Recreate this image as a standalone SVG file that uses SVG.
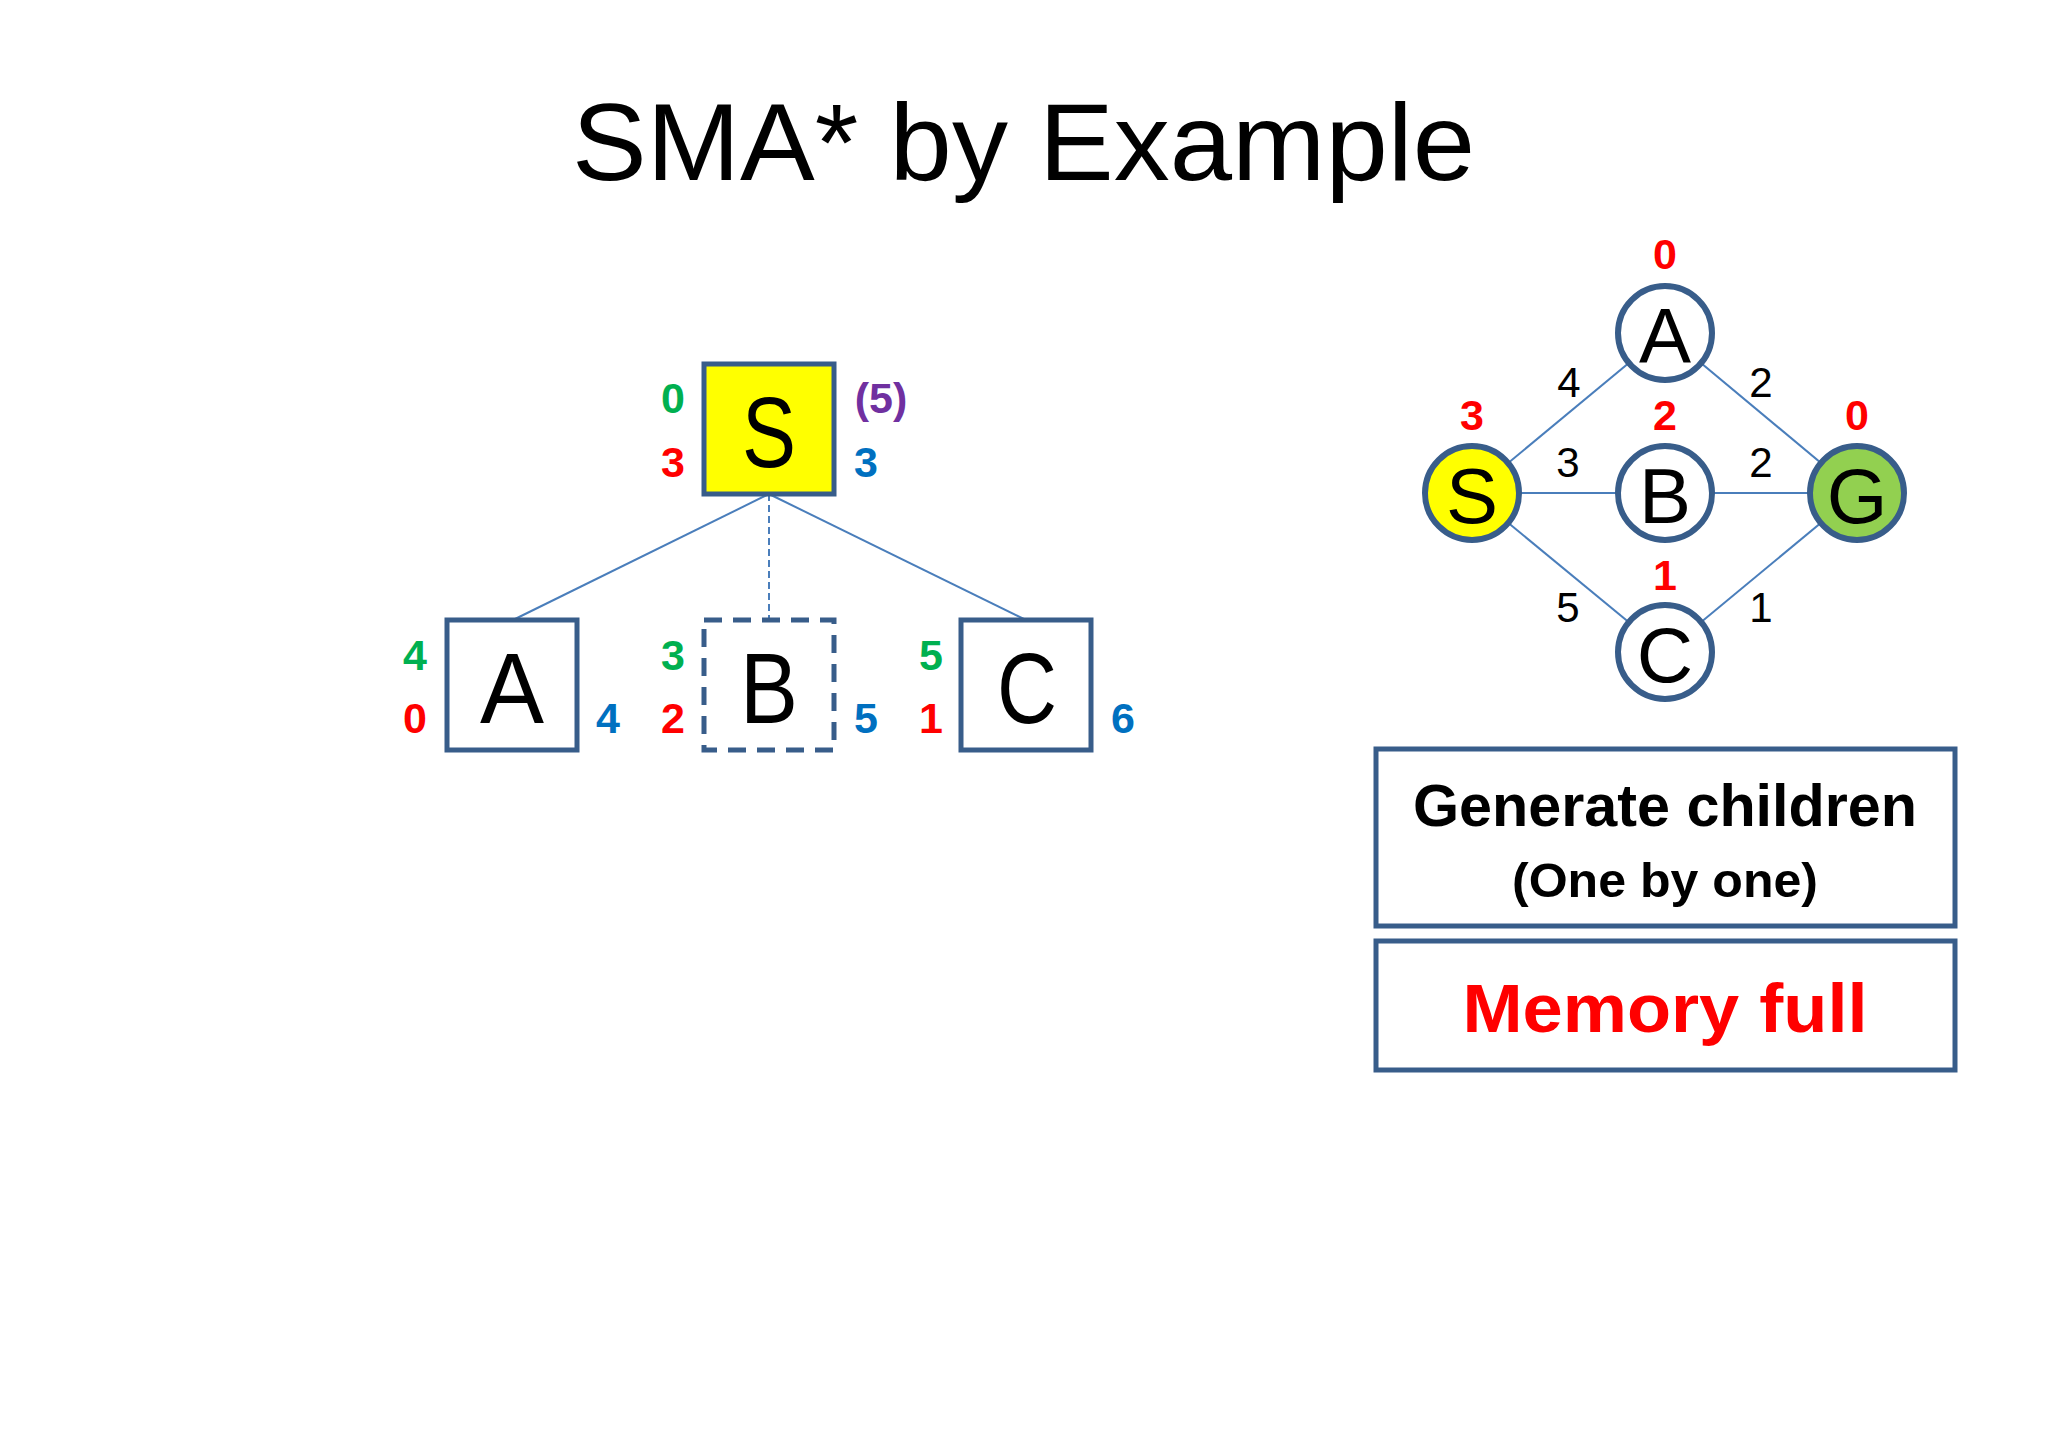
<svg xmlns="http://www.w3.org/2000/svg" width="2048" height="1434" viewBox="0 0 2048 1434">
<style>
.t{font-family:"Liberation Sans",Arial,sans-serif}
.box{fill:#fff;stroke:#385D8A;stroke-width:5}
.big{font-family:"Liberation Sans",Arial,sans-serif;font-size:100px;fill:#000;text-anchor:middle}
.mid{font-family:"Liberation Sans",Arial,sans-serif;font-size:78px;fill:#000;text-anchor:middle}
.num{font-family:"Liberation Sans",Arial,sans-serif;font-size:43px;font-weight:bold;text-anchor:middle}
.w{font-family:"Liberation Sans",Arial,sans-serif;font-size:42px;fill:#000;text-anchor:middle}
.g{fill:#00B050}.r{fill:#FF0000}.b{fill:#0070C0}.p{fill:#7030A0}
.edge{stroke:#4A7EBB;stroke-width:2;fill:none}
.circ{stroke:#385D8A;stroke-width:6;fill:#fff}
</style>
<rect width="2048" height="1434" fill="#fff"/>
<text class="t" x="572" y="180" font-size="110" textLength="903" lengthAdjust="spacingAndGlyphs">SMA* by Example</text>

<g id="tree-connectors">
<line class="edge" x1="769" y1="494" x2="513" y2="620"/>
<line class="edge" x1="769" y1="494" x2="1026" y2="620"/>
<line class="edge" x1="769" y1="494" x2="769" y2="620" stroke-dasharray="7 4"/>
</g>

<g id="tree-S">
<rect class="box" x="704" y="364" width="130" height="130" style="fill:#FFFF00"/>
<text class="big" x="769" y="467" textLength="54" lengthAdjust="spacingAndGlyphs">S</text>
<text class="num g" x="673" y="413">0</text>
<text class="num r" x="673" y="477">3</text>
<text class="num p" x="881" y="413">(5)</text>
<text class="num b" x="866" y="477">3</text>
</g>
<g id="tree-A">
<rect class="box" x="447" y="620" width="130" height="130"/>
<text class="big" x="512" y="723" textLength="64" lengthAdjust="spacingAndGlyphs">A</text>
<text class="num g" x="415" y="670">4</text>
<text class="num r" x="415" y="733">0</text>
<text class="num b" x="608" y="733">4</text>
</g>
<g id="tree-B">
<rect class="box" x="704" y="620" width="130" height="130" stroke-dasharray="18 11"/>
<text class="big" x="769" y="723" textLength="58" lengthAdjust="spacingAndGlyphs">B</text>
<text class="num g" x="673" y="670">3</text>
<text class="num r" x="673" y="733">2</text>
<text class="num b" x="866" y="733">5</text>
</g>
<g id="tree-C">
<rect class="box" x="961" y="620" width="130" height="130"/>
<text class="big" x="1027" y="723" textLength="60" lengthAdjust="spacingAndGlyphs">C</text>
<text class="num g" x="931" y="670">5</text>
<text class="num r" x="931" y="733">1</text>
<text class="num b" x="1123" y="733">6</text>
</g>

<g id="graph-connectors">
<line class="edge" x1="1472" y1="493" x2="1665" y2="333"/>
<line class="edge" x1="1665" y1="333" x2="1857" y2="493"/>
<line class="edge" x1="1472" y1="493" x2="1857" y2="493"/>
<line class="edge" x1="1472" y1="493" x2="1665" y2="652"/>
<line class="edge" x1="1665" y1="652" x2="1857" y2="493"/>
<text class="w" x="1569" y="397">4</text>
<text class="w" x="1761" y="397">2</text>
<text class="w" x="1568" y="477">3</text>
<text class="w" x="1761" y="477">2</text>
<text class="w" x="1568" y="622">5</text>
<text class="w" x="1761" y="622">1</text>
</g>
<g id="graph-A">
<circle class="circ" cx="1665" cy="333" r="47"/>
<text class="mid" x="1665" y="363">A</text>
<text class="num r" x="1665" y="269">0</text>
</g>
<g id="graph-S">
<circle class="circ" cx="1472" cy="493" r="47" style="fill:#FFFF00"/>
<text class="mid" x="1472" y="523">S</text>
<text class="num r" x="1472" y="430">3</text>
</g>
<g id="graph-B">
<circle class="circ" cx="1665" cy="493" r="47"/>
<text class="mid" x="1665" y="523">B</text>
<text class="num r" x="1665" y="430">2</text>
</g>
<g id="graph-G">
<circle class="circ" cx="1857" cy="493" r="47" style="fill:#92D050"/>
<text class="mid" x="1857" y="523">G</text>
<text class="num r" x="1857" y="430">0</text>
</g>
<g id="graph-C">
<circle class="circ" cx="1665" cy="652" r="47"/>
<text class="mid" x="1665" y="682">C</text>
<text class="num r" x="1665" y="590">1</text>
</g>

<g id="box-generate">
<rect class="box" x="1376" y="749" width="579" height="177"/>
<text class="t" x="1665" y="826" font-size="60" font-weight="bold" text-anchor="middle" textLength="504" lengthAdjust="spacingAndGlyphs">Generate children</text>
<text class="t" x="1665" y="897" font-size="49" font-weight="bold" text-anchor="middle" textLength="306" lengthAdjust="spacingAndGlyphs">(One by one)</text>
</g>
<g id="box-memory">
<rect class="box" x="1376" y="941" width="579" height="129"/>
<text class="t" x="1665" y="1032" font-size="68" font-weight="bold" text-anchor="middle" fill="#FF0000" textLength="405" lengthAdjust="spacingAndGlyphs">Memory full</text>
</g>
</svg>
